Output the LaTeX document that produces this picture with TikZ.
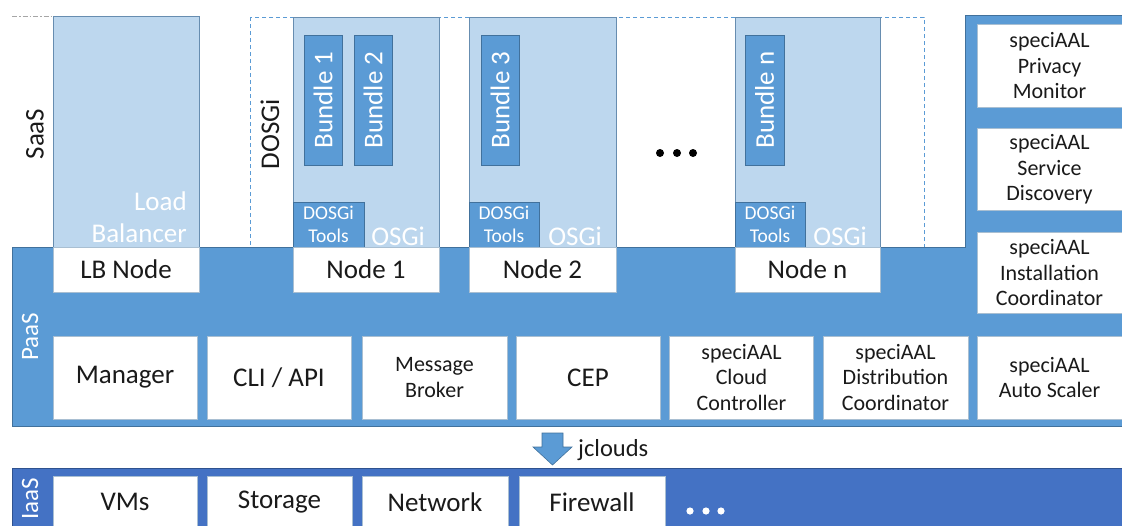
\documentclass[tikz,border=0pt]{standalone}
\usepackage{fontspec}
\setmainfont{Carlito}
\definecolor{paas}{HTML}{5B9BD5}
\definecolor{paasline}{HTML}{41719C}
\definecolor{osgifill}{HTML}{BDD7EE}
\definecolor{iaas}{HTML}{4472C4}
\definecolor{iaasline}{HTML}{2F528F}
\definecolor{txt}{HTML}{1A1A1A}
\begin{document}
\begin{tikzpicture}[x=1pt,y=-1pt,
 big/.style={font=\fontsize{27}{32}\selectfont},
 mid/.style={font=\fontsize{22}{25.5}\selectfont},
 side/.style={font=\fontsize{25}{30}\selectfont},
 jcl/.style={font=\fontsize{24.5}{29}\selectfont},
 small/.style={font=\fontsize{19.5}{22.5}\selectfont},
 wbox/.style={draw=paasline!45, fill=white, line width=0.6pt, inner sep=0pt, align=center, text=txt},
 lbox/.style={draw=paasline!80, fill=osgifill, line width=0.7pt, inner sep=0pt},
 dbox/.style={draw=paasline, fill=paas, line width=0.7pt, inner sep=0pt, text=white, align=center},
 lbl/.style={inner sep=0pt, align=center},
 wlbl/.style={inner sep=0pt, align=right, text=white},
]
\useasboundingbox (0,0) rectangle (1122,525);
% SaaS marker line
\draw[gray!70, line width=0.8pt, dash pattern=on 5pt off 2pt on 1.5pt off 2pt] (12,16) -- (53,16);
% DOSGi dashed frame
\draw[paas, line width=0.8pt, dash pattern=on 4pt off 3pt] (250,17) rectangle (924,247);
% PaaS band with right column
\fill[paas] (12,247) -- (965,247) -- (965,15) -- (1130,15) -- (1130,426) -- (12,426) -- cycle;
\draw[paasline, line width=0.8pt] (12,247) -- (965,247) -- (965,15) -- (1130,15) -- (1130,426) -- (12,426) -- cycle;
% IaaS band
\fill[iaas] (12,468) rectangle (1130,535);
\draw[iaasline, line width=0.8pt] (12,468) rectangle (1130,535);

% Load balancer
\node[lbox, minimum width=146pt, minimum height=231pt] (lb) at (126,131.5) {};
\node[wlbl, big, anchor=east] (lbtext) at (187,217) {Load\\Balancer};
\node[wbox, big, minimum width=146pt, minimum height=45pt] (lbnode) at (126,269.5) {LB Node};

% OSGi containers
\node[lbox, minimum width=146pt, minimum height=230pt] (osgi1) at (366,132) {};
\node[lbox, minimum width=147pt, minimum height=230pt] (osgi2) at (542.5,132) {};
\node[lbox, minimum width=145pt, minimum height=230pt] (osgin) at (807.5,132) {};
\node[wlbl, big, anchor=east] (o1) at (425,236) {OSGi};
\node[wlbl, big, anchor=east] (o2) at (602,236) {OSGi};
\node[wlbl, big, anchor=east] (on) at (867,236) {OSGi};
% bundles
\node[dbox, big, minimum width=130pt, minimum height=38pt, rotate=90] (b1) at (323,100) {Bundle 1};
\node[dbox, big, minimum width=130pt, minimum height=38pt, rotate=90] (b2) at (373,100) {Bundle 2};
\node[dbox, big, minimum width=130pt, minimum height=38pt, rotate=90] (b3) at (500,100) {Bundle 3};
\node[dbox, big, minimum width=130pt, minimum height=39pt, rotate=90] (bn) at (764.5,100) {Bundle n};
% DOSGi tools
\node[dbox, small, minimum width=71pt, minimum height=45pt] (t1) at (328.5,224.5) {DOSGi\\Tools};
\node[dbox, small, minimum width=70pt, minimum height=45pt] (t2) at (504,224.5) {DOSGi\\Tools};
\node[dbox, small, minimum width=70pt, minimum height=45pt] (tn) at (770,224.5) {DOSGi\\Tools};
% nodes
\node[wbox, big, minimum width=146pt, minimum height=45pt] (n1) at (366,269.5) {Node 1};
\node[wbox, big, minimum width=147pt, minimum height=45pt] (n2) at (542.5,269.5) {Node 2};
\node[wbox, big, minimum width=145pt, minimum height=45pt] (nn) at (807.5,269.5) {Node n};
% ellipsis
\fill[black] (660,153) circle (4) (677,153) circle (4) (693,153) circle (4);

% labels
\node[lbl, big, rotate=90, text=txt] (saas) at (35,134) {SaaS};
\node[lbl, big, rotate=90, text=txt] (dosgi) at (270,134) {DOSGi};
\node[lbl, side, rotate=90, text=white] (paasl) at (30,337) {PaaS};
\node[lbl, side, rotate=90, text=white] (iaasl) at (30,499) {IaaS};

% right column
\node[wbox, mid, minimum width=145pt, minimum height=83pt] (priv) at (1049.5,66) {speciAAL\\Privacy\\Monitor};
\node[wbox, mid, minimum width=145pt, minimum height=82pt] (disc) at (1049.5,169.5) {speciAAL\\Service\\Discovery};
\node[wbox, mid, minimum width=145pt, minimum height=81pt] (inst) at (1049.5,273) {speciAAL\\Installation\\Coordinator};

% PaaS components
\node[wbox, big, minimum width=144pt, minimum height=83pt] (mgr) at (125,377.5) {Manager};
\node[wbox, big, minimum width=144pt, minimum height=83pt] (cli) at (279,377.5) {CLI / API};
\node[wbox, mid, minimum width=145pt, minimum height=83pt] (mb) at (434.5,377.5) {Message\\Broker};
\node[wbox, big, minimum width=144pt, minimum height=83pt] (cep) at (588,377.5) {CEP};
\node[wbox, mid, minimum width=144pt, minimum height=83pt] (cc) at (741.5,377.5) {speciAAL\\Cloud\\Controller};
\node[wbox, mid, minimum width=145pt, minimum height=83pt] (dc) at (895.5,377.5) {speciAAL\\Distribution\\Coordinator};
\node[wbox, mid, minimum width=145pt, minimum height=83pt] (as) at (1049.5,377.5) {speciAAL\\Auto Scaler};

% jclouds arrow
\draw[fill=paas, draw=paasline, line width=0.6pt] (542,433) -- (563,433) -- (563,447) -- (572,447) -- (552.5,465) -- (533,447) -- (542,447) -- cycle;
\node[lbl, jcl, anchor=west, text=txt] (jc) at (578,450) {jclouds};

% IaaS components
\node[wbox, big, minimum width=144pt, minimum height=52pt] (vms) at (125,502) {VMs};
\node[wbox, big, minimum width=145pt, minimum height=52pt] (sto) at (279.5,502) {Storage};
\node[wbox, big, minimum width=146pt, minimum height=52pt] (net) at (435,502) {Network};
\node[wbox, big, minimum width=146pt, minimum height=52pt] (fw) at (592,502) {Firewall};
\fill[white] (690,511) circle (3.6) (706,511) circle (3.6) (721,511) circle (3.6);
\end{tikzpicture}
\end{document}
